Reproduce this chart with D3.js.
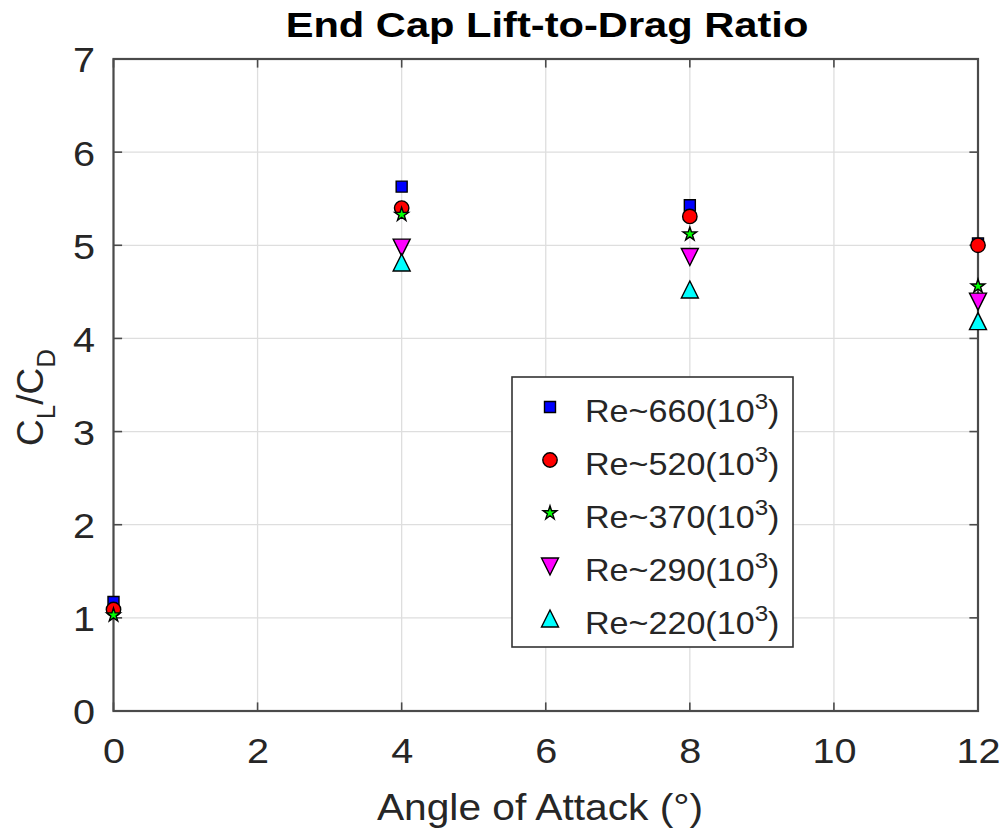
<!DOCTYPE html>
<html>
<head>
<meta charset="utf-8">
<script src="https://cdn.jsdelivr.net/npm/d3@7"></script>
<style>
  html, body { margin: 0; padding: 0; background: #fff; }
  svg { display: block; font-family: "Liberation Sans", Arial, Helvetica, sans-serif; }
</style>
</head>
<body>
<svg id="chart" width="1007" height="836"></svg>
<script>
// Lift-to-drag ratio of the end cap at each angle of attack, per Reynolds number
const angles = [0, 4, 8, 12];
const re660 = [1.17, 5.63, 5.43, 5.02];
const re520 = [1.09, 5.40, 5.31, 5.00];
const re370 = [1.03, 5.33, 5.12, 4.56];
const re290 = [null, 4.98, 4.88, 4.40];
const re220 = [null, 4.81, 4.52, 4.18];

const seriesNames = ["Re~660", "Re~520", "Re~370", "Re~290", "Re~220"];
const xTicks = [0, 2, 4, 6, 8, 10, 12];
const yTicks = [0, 1, 2, 3, 4, 5, 6, 7];

const series = [
  { name: seriesNames[0], values: re660, marker: "square",   fill: "#0000ff" },
  { name: seriesNames[1], values: re520, marker: "circle",   fill: "#ff0000" },
  { name: seriesNames[2], values: re370, marker: "star",     fill: "#00ff00" },
  { name: seriesNames[3], values: re290, marker: "triDown",  fill: "#ff00ff" },
  { name: seriesNames[4], values: re220, marker: "triUp",    fill: "#00ffff" }
];

const svg = d3.select("#chart");
const plotL = 113.5, plotR = 978, plotT = 59, plotB = 711;
const x = d3.scaleLinear().domain([0, 12]).range([plotL, plotR]);
const y = d3.scaleLinear().domain([0, 7]).range([plotB, plotT]);
const sx = 1.1;          // horizontal text stretch
const textColor = "#262626";
const axisColor = "#4a4a4a";

// grid
const grid = svg.append("g");
grid.selectAll("line.gx").data(xTicks).join("line")
  .attr("x1", d => x(d)).attr("x2", d => x(d))
  .attr("y1", plotT).attr("y2", plotB)
  .attr("stroke", "#dedede").attr("stroke-width", 1.3);
grid.selectAll("line.gy").data(yTicks).join("line")
  .attr("x1", plotL).attr("x2", plotR)
  .attr("y1", d => y(d)).attr("y2", d => y(d))
  .attr("stroke", "#dedede").attr("stroke-width", 1.3);

// axes with labels
const xAxis = svg.append("g").attr("transform", `translate(0,${plotB})`)
  .call(d3.axisBottom(x).tickValues(xTicks).tickFormat(d3.format("d")).tickSize(0).tickPadding(0));
xAxis.select(".domain").remove();
xAxis.selectAll("text")
  .attr("y", 52).attr("dy", 0)
  .attr("font-size", 36).attr("fill", textColor)
  .attr("transform", `scale(${sx},1)`);

const yAxis = svg.append("g").attr("transform", `translate(${plotL},0)`)
  .call(d3.axisLeft(y).tickValues(yTicks).tickFormat(d3.format("d")).tickSize(0).tickPadding(0));
yAxis.select(".domain").remove();
yAxis.selectAll("text")
  .attr("x", -18.5 / sx).attr("dy", "0.36em")
  .attr("font-size", 36).attr("fill", textColor)
  .attr("transform", `scale(${sx},1)`);

// inward tick marks on all four sides
const tl = 8.6;
const ticks = svg.append("g").attr("stroke", axisColor).attr("stroke-width", 1.6);
xTicks.forEach(t => {
  ticks.append("line").attr("x1", x(t)).attr("x2", x(t)).attr("y1", plotB).attr("y2", plotB - tl);
  ticks.append("line").attr("x1", x(t)).attr("x2", x(t)).attr("y1", plotT).attr("y2", plotT + tl);
});
yTicks.forEach(t => {
  ticks.append("line").attr("x1", plotL).attr("x2", plotL + tl).attr("y1", y(t)).attr("y2", y(t));
  ticks.append("line").attr("x1", plotR).attr("x2", plotR - tl).attr("y1", y(t)).attr("y2", y(t));
});

// frame
svg.append("rect")
  .attr("x", plotL).attr("y", plotT)
  .attr("width", plotR - plotL).attr("height", plotB - plotT)
  .attr("fill", "none").attr("stroke", axisColor).attr("stroke-width", 2.2);

// marker shapes
function markerPath(kind) {
  switch (kind) {
    case "square": return "M-5.5,-5.5H5.5V5.5H-5.5Z";
    case "circle": return d3.symbol(d3.symbolCircle, Math.PI * 7.2 * 7.2)();
    case "star":   return d3.symbol(d3.symbolStar, 58)();
    case "triDown": return "M-8.5,-8L8.5,-8L0,9Z";
    case "triUp":   return "M0,-9L8.5,8L-8.5,8Z";
  }
}

// data points
series.forEach(s => {
  svg.append("g").selectAll("path")
    .data(angles.map((a, i) => ({ a, v: s.values[i] })).filter(d => d.v != null))
    .join("path")
    .attr("d", markerPath(s.marker))
    .attr("transform", d => `translate(${x(d.a)},${y(d.v)})`)
    .attr("fill", s.fill).attr("stroke", "#000").attr("stroke-width", 1.4)
    .attr("stroke-linejoin", "miter");
});

// title
svg.append("text")
  .attr("transform", `translate(547,37) scale(1.19,1)`)
  .attr("text-anchor", "middle")
  .attr("font-size", 35).attr("font-weight", "bold").attr("fill", "#000")
  .text("End Cap Lift-to-Drag Ratio");

// x label
svg.append("text")
  .attr("transform", `translate(540,820) scale(${sx},1)`)
  .attr("text-anchor", "middle")
  .attr("font-size", 37).attr("fill", textColor)
  .text("Angle of Attack (°)");

// y label: C_L / C_D
const yl = svg.append("text")
  .attr("transform", `translate(43,446) rotate(-90)`)
  .attr("text-anchor", "start")
  .attr("font-size", 37).attr("fill", textColor);
yl.append("tspan").text("C");
yl.append("tspan").attr("font-size", 26).attr("dy", 12).text("L");
yl.append("tspan").attr("dy", -12).text("/C");
yl.append("tspan").attr("font-size", 26).attr("dy", 12).text("D");

// legend
const lg = svg.append("g");
lg.append("rect")
  .attr("x", 512).attr("y", 377).attr("width", 281).attr("height", 270)
  .attr("fill", "#fff").attr("stroke", "#333").attr("stroke-width", 1.6);
const rowY = d3.scaleLinear().domain([0, 4]).range([407, 619]);
series.forEach((s, i) => {
  const cy = rowY(i);
  lg.append("path")
    .attr("d", markerPath(s.marker))
    .attr("transform", `translate(550,${cy})`)
    .attr("fill", s.fill).attr("stroke", "#000").attr("stroke-width", 1.4);
  const t = lg.append("text")
    .attr("transform", `translate(585,${cy + 15}) scale(${sx},1)`)
    .attr("font-size", 31).attr("fill", textColor);
  t.append("tspan").text(s.name + "(10");
  t.append("tspan").attr("font-size", 22).attr("dy", -13).text("3");
  t.append("tspan").attr("dy", 13).text(")");
});
</script>
</body>
</html>
